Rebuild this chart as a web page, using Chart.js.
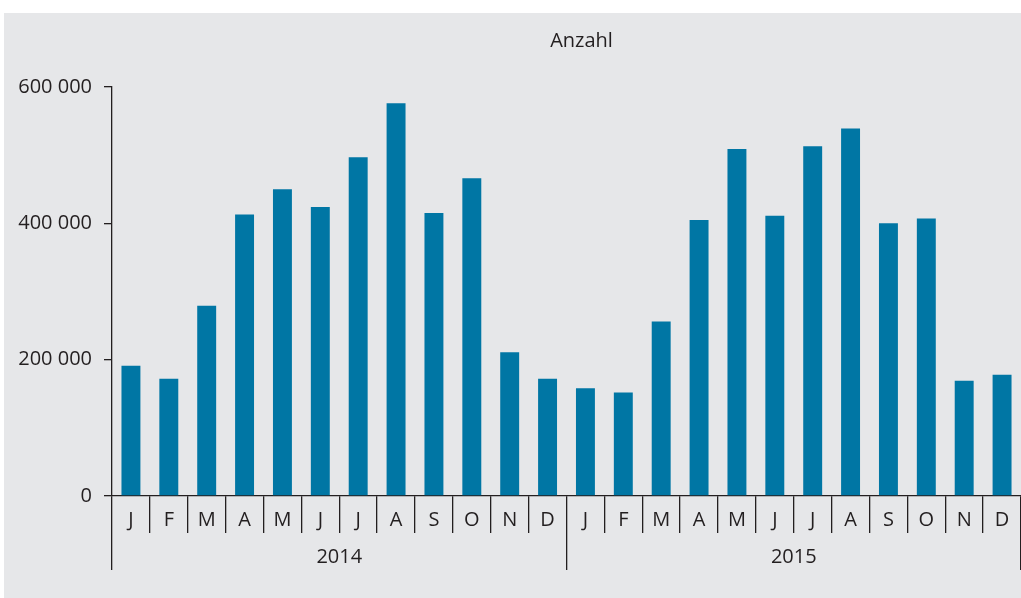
<!DOCTYPE html>
<html>
<head>
<meta charset="utf-8">
<script src="https://cdn.jsdelivr.net/npm/chart.js@4/dist/chart.umd.min.js"></script>
<style>
  html, body { margin: 0; padding: 0; background: #ffffff; width: 1021px; height: 598px; overflow: hidden; }
  #panel { position: absolute; left: 4px; top: 13px; width: 1017px; height: 585px; background: #e6e7e9; }
  canvas { display: block; }
</style>
</head>
<body>
<div id="panel"><canvas id="c" width="1017" height="585"></canvas></div>
<script>
const months = ['J','F','M','A','M','J','J','A','S','O','N','D'];
const years = ['2014','2015'];
const values2014 = [191000, 172000, 279000, 413000, 450000, 424000, 497000, 576000, 415000, 466000, 211000, 172000];
const values2015 = [158000, 152000, 256000, 405000, 509000, 411000, 513000, 539000, 400000, 407000, 169000, 178000];
const yTicks = [0, 200000, 400000, 600000];
const titleText = 'Anzahl';

const categories = months.concat(months);
const values = values2014.concat(values2015);
const FONT = "'Open Sans', 'Noto Sans', sans-serif";
const TEXT = '#231f20';

const titlePlugin = {
  id: 'unitTitle',
  afterDraw(chart) {
    const ctx = chart.ctx;
    const a = chart.chartArea;
    ctx.save();
    ctx.font = '20px ' + FONT;
    ctx.fillStyle = TEXT;
    ctx.textAlign = 'center';
    ctx.textBaseline = 'middle';
    ctx.fillText(titleText, (a.left + a.right) / 2 + 15, 28);
    ctx.restore();
  }
};

new Chart(document.getElementById('c'), {
  type: 'bar',
  data: {
    labels: categories,
    datasets: [{
      data: values,
      backgroundColor: '#0076a4',
      borderWidth: 0,
      categoryPercentage: 1,
      barPercentage: 0.5,
      xAxisID: 'x',
      yAxisID: 'y'
    }]
  },
  options: {
    responsive: false,
    animation: false,
    layout: { padding: { top: 74, right: 0, bottom: 28, left: 0 } },
    plugins: { legend: { display: false }, tooltip: { enabled: false }, title: { display: false } },
    scales: {
      y: {
        min: 0, max: 600000,
        afterBuildTicks(scale) { scale.ticks = yTicks.map(v => ({ value: v })); },
        afterFit(scale) { scale.width = 108; },
        border: { display: true, color: '#231f20', width: 1.3 },
        grid: { drawOnChartArea: false, drawTicks: true, tickLength: 8, color: '#231f20', lineWidth: 1.3 },
        ticks: {
          padding: 12,
          color: TEXT,
          font: { family: FONT, size: 20 },
          callback: v => String(v).replace(/\B(?=(\d{3})+(?!\d))/g, ' ')
        }
      },
      x: {
        position: 'bottom',
        offset: true,
        afterFit(scale) { scale.height = 37; },
        border: { display: true, color: '#231f20', width: 1.3 },
        grid: { offset: true, drawOnChartArea: false, drawTicks: true, tickLength: 37, color: '#231f20', lineWidth: 1.3 },
        ticks: {
          autoSkip: false, maxRotation: 0, minRotation: 0,
          padding: -25,
          color: TEXT,
          font: { family: FONT, size: 20 }
        }
      },
      x2: {
        type: 'category',
        labels: years,
        position: 'bottom',
        offset: true,
        afterFit(scale) { scale.height = 37; },
        border: { display: false },
        grid: { offset: true, drawOnChartArea: false, drawTicks: true, tickLength: 37, color: '#231f20', lineWidth: 1.3 },
        ticks: {
          autoSkip: false, maxRotation: 0, minRotation: 0,
          padding: -25,
          color: TEXT,
          font: { family: FONT, size: 20 }
        }
      }
    }
  },
  plugins: [titlePlugin]
});
</script>
</body>
</html>
